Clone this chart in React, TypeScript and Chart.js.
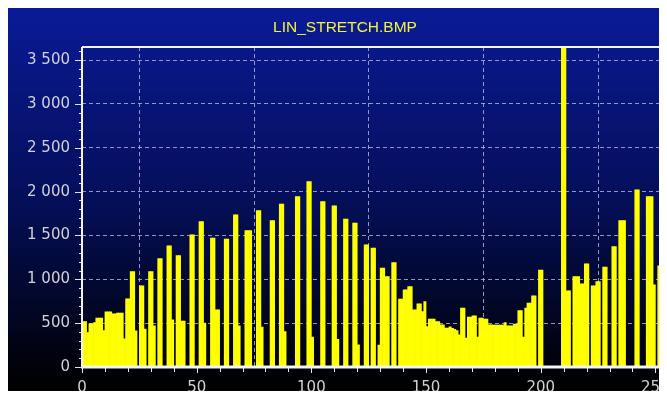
import React, { useEffect, useRef } from 'react';
import { Chart, registerables } from 'chart.js';

Chart.register(...registerables);

const TITLE = 'LIN_STRETCH.BMP';

// Histogram counts for grey levels 0..255
const COUNTS: number[] = [
  518, 518, 393, 492, 492, 507, 557, 557, 557, 416, 629, 629, 629, 606, 606, 614,
  614, 614, 321, 777, 777, 1089, 1089, 412, 0, 926, 926, 432, 0, 1089, 1089, 469,
  0, 1237, 1237, 0, 0, 1382, 1382, 538, 0, 1272, 1272, 523, 523, 0, 0, 1508,
  1508, 0, 0, 1660, 1660, 500, 0, 0, 1470, 1470, 652, 652, 0, 0, 1459, 1459,
  0, 0, 1736, 1736, 469, 0, 0, 1557, 1557, 1557, 0, 0, 1785, 1785, 454, 0,
  0, 0, 1671, 1671, 0, 0, 1858, 1858, 404, 0, 0, 0, 0, 1945, 1945, 0,
  0, 0, 2116, 2116, 340, 0, 0, 0, 1888, 1888, 0, 0, 0, 1839, 1839, 317,
  0, 0, 1687, 1687, 0, 0, 1642, 1642, 252, 0, 0, 1394, 1394, 0, 1356, 1356,
  0, 250, 1128, 1128, 1032, 1032, 0, 1192, 1192, 0, 774, 774, 880, 880, 918, 918,
  652, 652, 720, 720, 632, 747, 461, 546, 546, 546, 518, 518, 481, 481, 443, 443,
  458, 440, 430, 416, 366, 671, 671, 329, 568, 568, 583, 583, 340, 557, 557, 546,
  546, 481, 481, 477, 477, 477, 477, 477, 507, 470, 470, 470, 490, 490, 644, 644,
  340, 671, 729, 729, 812, 812, 0, 1105, 1105, 0, 0, 0, 0, 0, 0, 0,
  0, 3800, 3800, 869, 869, 0, 1032, 1032, 1032, 949, 949, 1177, 1177, 0, 926, 926,
  975, 975, 0, 1139, 1139, 0, 0, 1374, 1374, 0, 1671, 1671, 1671, 0, 0, 0,
  0, 2022, 2022, 0, 0, 0, 1945, 1945, 1945, 937, 0, 1154, 1154, 1154, 492, 492,
];

const BINS: number[] = COUNTS.map((_, i) => i);

const X_MAX = 256;
const X_TICKS = [0, 50, 100, 150, 200, 250];
const X_MINOR = 10;
const Y_MAX = 3650;
const Y_TICKS = [0, 500, 1000, 1500, 2000, 2500, 3000, 3500];
const Y_MINOR = 100;

const TICK_FONT = { family: 'DejaVu Sans', size: 15 };
const TICK_COLOR = '#d2d2d8';
const GRID_COLOR = 'rgba(175,175,215,0.85)';

const fmt = (v: number) => String(Math.round(v)).replace(/\B(?=(\d{3})+(?!\d))/g, ' ');

const framePlugin = {
  id: 'frame',
  beforeDraw(chart: any) {
    const { ctx, width, height } = chart;
    const g = ctx.createLinearGradient(0, 0, 0, height - 20);
    g.addColorStop(0, '#0a1a96');
    g.addColorStop(0.5, '#040f5a');
    g.addColorStop(1, '#000000');
    ctx.save();
    ctx.fillStyle = g;
    ctx.fillRect(0, 0, width, height);
    ctx.restore();
  },
  afterDraw(chart: any) {
    const { ctx, chartArea: a, scales } = chart;
    const xs = scales.x;
    const ys = scales.y;
    ctx.save();
    ctx.strokeStyle = '#e6e6ea';
    ctx.lineWidth = 1;
    for (let v = 0; v <= Y_MAX; v += Y_MINOR) {
      const py = Math.round(ys.getPixelForValue(v)) + 0.5;
      const len = Y_TICKS.includes(v) ? 7 : 3;
      ctx.beginPath();
      ctx.moveTo(a.left - len, py);
      ctx.lineTo(a.left, py);
      ctx.stroke();
    }
    for (let v = 0; v <= X_MAX; v += X_MINOR) {
      const px = Math.round(xs.getPixelForValue(v)) + 0.5;
      const len = X_TICKS.includes(v) ? 6 : 5;
      ctx.beginPath();
      ctx.moveTo(px, a.bottom);
      ctx.lineTo(px, a.bottom + len);
      ctx.stroke();
    }
    ctx.strokeStyle = '#f4f4f4';
    ctx.lineWidth = 2;
    ctx.beginPath();
    ctx.moveTo(a.left, a.top);
    ctx.lineTo(a.right + 20, a.top);
    ctx.stroke();
    ctx.beginPath();
    ctx.moveTo(a.left, a.top);
    ctx.lineTo(a.left, a.bottom);
    ctx.stroke();
    ctx.lineWidth = 3;
    ctx.beginPath();
    ctx.moveTo(a.left - 1, a.bottom);
    ctx.lineTo(a.right + 20, a.bottom);
    ctx.stroke();
    ctx.restore();
  },
};

export default function App() {
  const ref = useRef<HTMLCanvasElement>(null);

  useEffect(() => {
    document.body.style.overflow = 'hidden';
    const chart = new Chart(ref.current as HTMLCanvasElement, {
      type: 'bar',
      data: {
        datasets: [
          {
            data: BINS.map((b, i) => ({ x: b + 0.5, y: COUNTS[i] })),
            backgroundColor: '#ffff00',
            borderWidth: 0,
            barPercentage: 1,
            categoryPercentage: 1,
          },
        ],
      },
      options: {
        responsive: false,
        animation: false,
        events: [],
        layout: { padding: 0 },
        plugins: {
          legend: { display: false },
          tooltip: { enabled: false },
          title: {
            display: true,
            text: TITLE,
            color: '#f4f43c',
            font: { family: 'Liberation Sans', size: 15.5, weight: 'normal' },
            padding: { top: 10.7, bottom: 9.7 },
          },
        },
        scales: {
          x: {
            type: 'linear',
            min: 0,
            max: X_MAX,
            offset: false,
            afterBuildTicks: (s: any) => {
              s.ticks = X_TICKS.map((v) => ({ value: v }));
            },
            ticks: {
              autoSkip: false,
              maxRotation: 0,
              color: TICK_COLOR,
              font: TICK_FONT,
              padding: 12,
              callback: (v: any) => String(v),
            },
            grid: { color: GRID_COLOR, lineWidth: 1, drawTicks: false },
            border: { display: false, dash: [4, 3] },
            afterFit: (s: any) => {
              s.height = 41;
            },
          },
          y: {
            min: 0,
            max: Y_MAX,
            afterBuildTicks: (s: any) => {
              s.ticks = Y_TICKS.map((v) => ({ value: v }));
            },
            ticks: {
              autoSkip: false,
              color: TICK_COLOR,
              font: TICK_FONT,
              padding: 12,
              callback: (v: any) => fmt(Number(v)),
            },
            grid: { color: GRID_COLOR, lineWidth: 1, drawTicks: false },
            border: { display: false, dash: [4, 3] },
            afterFit: (s: any) => {
              s.width = 74;
            },
          },
          yRight: {
            position: 'right',
            display: true,
            ticks: { display: false },
            grid: { display: false },
            border: { display: false },
            afterFit: (s: any) => {
              s.width = 12.5;
            },
          },
        },
      },
      plugins: [framePlugin],
    } as any);
    return () => chart.destroy();
  }, []);

  return (
    <div style={{ width: 659, height: 391, overflow: 'hidden', marginBottom: -8 }}>
      <canvas
        ref={ref}
        width={674}
        height={400}
        style={{ display: 'block', width: 674, height: 400 }}
      />
    </div>
  );
}
